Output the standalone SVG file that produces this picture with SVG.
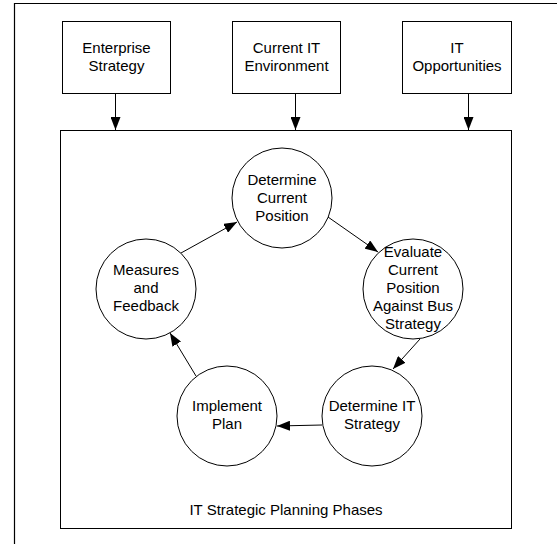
<svg xmlns="http://www.w3.org/2000/svg" width="557" height="544" viewBox="0 0 557 544">
<style>
.box{fill:#fff;stroke:#000;stroke-width:1}
.frame{fill:none;stroke:#000;stroke-width:1.2}
.conn{stroke:#000;stroke-width:1;fill:none}
text{font-family:"Liberation Sans",Arial,sans-serif;font-size:15px;fill:#000;text-anchor:middle}
</style>
<defs>
<marker id="ah" markerWidth="13" markerHeight="10" refX="13" refY="5" orient="auto" markerUnits="userSpaceOnUse">
<path d="M0,0 L13,5 L0,10 Z" fill="#000"/>
</marker>
</defs>
<rect width="557" height="544" fill="#fff"/>
<g id="outer-frame">
<path class="frame" d="M14.5,560 V3.5 H560"/>
</g>
<g id="inner-frame">
<rect class="box" x="60.5" y="130.5" width="451" height="398"/>
</g>
<g id="enterprise-strategy">
<rect class="box" x="62.5" y="21.5" width="108" height="72"/>
<text x="116.5" y="53">Enterprise</text>
<text x="116.5" y="71">Strategy</text>
</g>
<g id="current-it-environment">
<rect class="box" x="232.5" y="21.5" width="108" height="72"/>
<text x="286.5" y="53">Current IT</text>
<text x="286.5" y="71">Environment</text>
</g>
<g id="it-opportunities">
<rect class="box" x="402.5" y="21.5" width="109" height="72"/>
<text x="457" y="53">IT</text>
<text x="457" y="71">Opportunities</text>
</g>
<g id="determine-current-position">
<circle class="box" cx="282" cy="198" r="50"/>
<text x="282" y="185">Determine</text>
<text x="282" y="203">Current</text>
<text x="282" y="221">Position</text>
</g>
<g id="evaluate-current-position">
<circle class="box" cx="413" cy="289" r="50"/>
<text x="413" y="257">Evaluate</text>
<text x="413" y="275">Current</text>
<text x="413" y="293">Position</text>
<text x="413" y="311">Against Bus</text>
<text x="413" y="329">Strategy</text>
</g>
<g id="determine-it-strategy">
<circle class="box" cx="372" cy="416" r="50"/>
<text x="372" y="411">Determine IT</text>
<text x="372" y="429">Strategy</text>
</g>
<g id="implement-plan">
<circle class="box" cx="227" cy="416" r="50"/>
<text x="227" y="411">Implement</text>
<text x="227" y="429">Plan</text>
</g>
<g id="measures-and-feedback">
<circle class="box" cx="146" cy="289" r="50"/>
<text x="146" y="275">Measures</text>
<text x="146" y="293">and</text>
<text x="146" y="311">Feedback</text>
</g>
<g id="label">
<text x="286" y="515">IT Strategic Planning Phases</text>
</g>
<g id="connectors">
<line class="conn" x1="115.5" y1="94" x2="115.5" y2="130" marker-end="url(#ah)"/>
<line class="conn" x1="295.5" y1="94" x2="295.5" y2="130" marker-end="url(#ah)"/>
<line class="conn" x1="468.5" y1="94" x2="468.5" y2="130" marker-end="url(#ah)"/>
<line class="conn" x1="181" y1="253" x2="237" y2="222" marker-end="url(#ah)"/>
<line class="conn" x1="328" y1="217" x2="378" y2="252" marker-end="url(#ah)"/>
<line class="conn" x1="420" y1="339" x2="393" y2="369" marker-end="url(#ah)"/>
<line class="conn" x1="322" y1="425" x2="277" y2="426" marker-end="url(#ah)"/>
<line class="conn" x1="196" y1="376" x2="170" y2="333" marker-end="url(#ah)"/>
</g>
</svg>
